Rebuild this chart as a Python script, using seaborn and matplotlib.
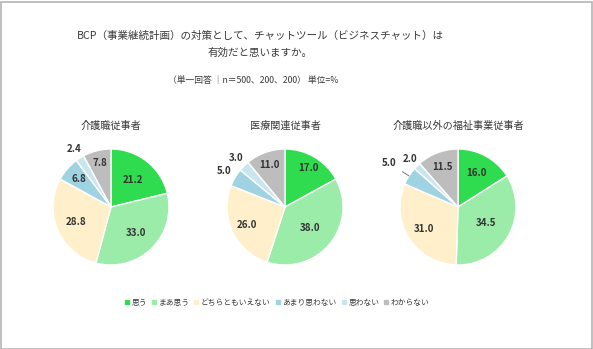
import numpy as np
import matplotlib
matplotlib.use("Agg")
import matplotlib.pyplot as plt
from matplotlib.patches import Rectangle
from matplotlib.lines import Line2D
import seaborn as sns

sns.set_theme(style="white")
plt.rcParams['font.family'] = ['Noto Sans CJK JP', 'DejaVu Sans']

# Answer categories and their colours
categories = ["思う", "まあ思う", "どちらともいえない", "あまり思わない", "思わない", "わからない"]
colors = ["#2fdc4f", "#9ceca9", "#fff0cb", "#9fd3e1", "#c9e6f0", "#bdbdbd"]

# Respondent groups and their shares (%)
groups = ["介護職従事者", "医療関連従事者", "介護職以外の福祉事業従事者"]
care_workers = [21.2, 33.0, 28.8, 6.8, 2.4, 7.8]
medical_workers = [17.0, 38.0, 26.0, 5.0, 3.0, 11.0]
welfare_workers = [16.0, 34.5, 31.0, 5.0, 2.0, 11.5]
values = [care_workers, medical_workers, welfare_workers]

# Label distance from the centre (in radii) for each slice
label_radius = [
    [0.60, 0.62, 0.65, 0.73, 1.19, 0.78],
    [0.78, 0.56, 0.72, 1.22, 1.20, 0.77],
    [0.67, 0.55, 0.70, 1.40, 1.16, 0.74],
]
leader = [[False] * 6, [False] * 6, [False, False, False, True, False, False]]

W, H = 593, 349
fig = plt.figure(figsize=(W / 100, H / 100), dpi=100)
fig.patch.set_facecolor("white")

# Outer frame
fig.add_artist(Rectangle((0.5 / W, 0.5 / H), (W - 2) / W, (H - 2) / H,
                         transform=fig.transFigure, fill=False,
                         edgecolor="#b5b5b5", linewidth=1.2))

fig.text(260 / W, 1 - 36 / H,
         "BCP（事業継続計画）の対策として、チャットツール（ビジネスチャット）は",
         ha="center", va="center", fontsize=7.6, color="#3a3a3a")
fig.text(260 / W, 1 - 53 / H, "有効だと思いますか。",
         ha="center", va="center", fontsize=7.6, color="#3a3a3a")
fig.text(253 / W, 1 - 81 / H, "（単一回答 ｜n＝500、200、200） 単位=%",
         ha="center", va="center", fontsize=6.3, color="#3a3a3a")

centers = [(111, 207), (285, 207), (458, 207)]
R = 58
span = 1.7
for g, (cx, cy) in enumerate(centers):
    half = span * R
    ax = fig.add_axes([(cx - half) / W, (H - cy - half) / H, 2 * half / W, 2 * half / H])
    wedges, _ = ax.pie(values[g], colors=colors, startangle=90, counterclock=False,
                       radius=1.0, wedgeprops=dict(edgecolor="white", linewidth=1.0))
    ax.set_xlim(-span, span)
    ax.set_ylim(-span, span)
    ax.set_aspect("equal")
    ax.axis("off")
    for i, (w, v) in enumerate(zip(wedges, values[g])):
        ang = np.deg2rad((w.theta1 + w.theta2) / 2)
        r = label_radius[g][i]
        tx, ty = r * np.cos(ang), r * np.sin(ang)
        txt = f"{v:.1f}"
        if leader[g][i]:
            ax.annotate(txt, xy=(1.0 * np.cos(ang), 1.0 * np.sin(ang)), xytext=(tx, ty),
                        ha="center", va="center", fontsize=7, fontweight="bold",
                        color="#333333", annotation_clip=False,
                        arrowprops=dict(arrowstyle="-", color="#777777", lw=0.7,
                                        shrinkA=2, shrinkB=0))
        else:
            ax.text(tx, ty, txt, ha="center", va="center", fontsize=7,
                    fontweight="bold", color="#333333", clip_on=False)
    ax.text(0, 1 + 23 / R, groups[g], ha="center", va="center",
            fontsize=7.3, color="#3a3a3a", clip_on=False)

handles = [Line2D([0], [0], marker="s", linestyle="", markersize=3,
                  markerfacecolor=c, markeredgecolor=c) for c in colors]
fig.legend(handles, categories, loc="center", bbox_to_anchor=(277 / W, 1 - 303 / H),
           ncol=6, frameon=False, fontsize=5.6, handlelength=0.6, handletextpad=0.3,
           columnspacing=0.6, labelcolor="#3a3a3a")

fig.savefig("out.png", dpi=100, facecolor="white")
